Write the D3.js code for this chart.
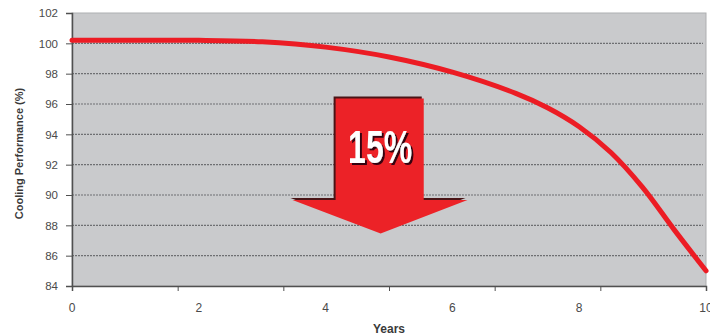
<!DOCTYPE html>
<html>
<head>
<meta charset="utf-8">
<script src="https://cdn.jsdelivr.net/npm/d3@7/dist/d3.min.js"></script>
<style>
  html, body { margin: 0; padding: 0; background: #fff; }
  svg { display: block; font-family: "Liberation Sans", Arial, sans-serif; }
</style>
</head>
<body>
<svg id="chart" width="710" height="335"></svg>
<script>
// Cooling performance over the service life of a unit
const years = [0, 1, 2, 3, 4, 5, 6, 7, 7.5, 8, 8.5, 9, 9.5, 10];
const performance = [100.2, 100.2, 100.2, 100.1, 99.75, 99.1, 98.1, 96.7, 95.75, 94.5, 92.8, 90.5, 87.7, 85.0];

const xTickLabels = [0, 2, 4, 6, 8, 10];
const yTickLabels = [84, 86, 88, 90, 92, 94, 96, 98, 100, 102];
const gridValues = [86, 88, 90, 92, 94, 96, 98, 100];
const xTickMarkCount = 6;

// Drop annotation: start and end of the loss, in data units
const dropLabel = "15%";
const dropFrom = 100;
const dropTo = 85;
const arrowShaft = { x0: 4.15, x1: 5.54, top: 96.4, bottom: 89.7 };
const arrowHead = { x0: 3.47, x1: 6.23, tipX: 4.86, tipY: 87.5 };

const margin = { top: 13, right: 4, bottom: 49, left: 72 };
const width = 710, height = 335;

const svg = d3.select("#chart");
const x = d3.scaleLinear().domain([0, 10]).range([margin.left, width - margin.right]);
const y = d3.scaleLinear().domain([84, 102]).range([height - margin.bottom, margin.top]);

// Dark drop shadow for the percentage label
const defs = svg.append("defs");
defs.append("filter").attr("id", "labelShadow")
  .attr("x", "-20%").attr("y", "-20%").attr("width", "140%").attr("height", "140%")
  .append("feDropShadow")
  .attr("dx", 2).attr("dy", 2).attr("stdDeviation", 0.6)
  .attr("flood-color", "#2a0608").attr("flood-opacity", 0.95);

// Plot area
svg.append("rect")
  .attr("x", x(0)).attr("y", y(102))
  .attr("width", x(10) - x(0)).attr("height", y(84) - y(102))
  .attr("fill", "#c9cacc")
  .attr("stroke", "#aeafb1").attr("stroke-width", 1);

// Horizontal grid lines
svg.append("g")
  .selectAll("line")
  .data(gridValues)
  .join("line")
  .attr("x1", x(0)).attr("x2", x(10) - 3)
  .attr("y1", d => y(d)).attr("y2", d => y(d))
  .attr("stroke", "#6e6f72").attr("stroke-width", 1.1)
  .attr("stroke-dasharray", "2,1");

// Y axis
const yAxis = svg.append("g")
  .attr("transform", `translate(${x(0)},0)`)
  .call(d3.axisLeft(y).tickValues(yTickLabels).tickSize(6).tickPadding(8).tickFormat(d3.format("d")));
yAxis.select(".domain").attr("stroke", "#505050").attr("stroke-width", 1.5);
yAxis.selectAll(".tick line").attr("stroke", "#505050");
yAxis.selectAll(".tick text").attr("fill", "#4a4a4a").style("font-size", "11.5px")
  .style("font-family", "Liberation Sans, Arial, sans-serif");

// X axis: tick marks split the span in six, labels every two years
const xAxis = svg.append("g")
  .attr("transform", `translate(0,${y(84)})`)
  .call(d3.axisBottom(x)
    .tickValues(d3.range(xTickMarkCount + 1).map(i => i * 10 / xTickMarkCount))
    .tickSize(5).tickFormat(""));
xAxis.select(".domain").attr("stroke", "#505050").attr("stroke-width", 1.5);
xAxis.selectAll(".tick line").attr("stroke", "#505050");

svg.append("g")
  .selectAll("text")
  .data(xTickLabels)
  .join("text")
  .attr("x", d => x(d)).attr("y", y(84) + 26)
  .attr("text-anchor", "middle")
  .attr("fill", "#4a4a4a").style("font-size", "12px")
  .text(d => d);

// Axis titles
svg.append("text")
  .attr("x", x(5)).attr("y", y(84) + 47)
  .attr("text-anchor", "middle")
  .attr("fill", "#3a3a3a").style("font-size", "12px").style("font-weight", "bold")
  .text("Years");

svg.append("text")
  .attr("transform", `translate(23,${(y(84) + y(102)) / 2 + 4}) rotate(-90)`)
  .attr("text-anchor", "middle")
  .attr("fill", "#3a3a3a").style("font-size", "11px").style("font-weight", "bold")
  .text("Cooling Performance (%)");

// Performance curve
const line = d3.line()
  .x((d, i) => x(years[i]))
  .y(d => y(d))
  .curve(d3.curveCatmullRom.alpha(0.5));

svg.append("path")
  .datum(performance)
  .attr("d", line)
  .attr("fill", "none")
  .attr("stroke", "#ec1c24")
  .attr("stroke-width", 5)
  .attr("stroke-linecap", "round");

// Downward arrow showing the loss
const arrowPts = [
  [x(arrowShaft.x0), y(arrowShaft.top)],
  [x(arrowShaft.x1), y(arrowShaft.top)],
  [x(arrowShaft.x1), y(arrowShaft.bottom)],
  [x(arrowHead.x1), y(arrowShaft.bottom)],
  [x(arrowHead.tipX), y(arrowHead.tipY)],
  [x(arrowHead.x0), y(arrowShaft.bottom)],
  [x(arrowShaft.x0), y(arrowShaft.bottom)]
];
const arrow = svg.append("g");
arrow.append("polygon")
  .attr("points", arrowPts.map(p => [p[0] - 1.5, p[1] - 1.5].join(",")).join(" "))
  .attr("fill", "#4a1416");
arrow.append("polygon")
  .attr("points", arrowPts.map(p => [p[0] + 0.5, p[1] + 0.5].join(",")).join(" "))
  .attr("fill", "#ec2227");

const pct = `${Math.round(dropFrom - dropTo)}%`;
arrow.append("text")
  .attr("x", x(arrowHead.tipX)).attr("y", y(arrowShaft.top) + 65)
  .attr("text-anchor", "middle")
  .attr("textLength", 64).attr("lengthAdjust", "spacingAndGlyphs")
  .style("font-family", "Liberation Sans Narrow, Liberation Sans, Arial, sans-serif")
  .style("font-size", "47px").style("font-weight", "bold")
  .attr("fill", "#ffffff")
  .attr("filter", "url(#labelShadow)")
  .text(pct === dropLabel ? dropLabel : pct);
</script>
</body>
</html>
